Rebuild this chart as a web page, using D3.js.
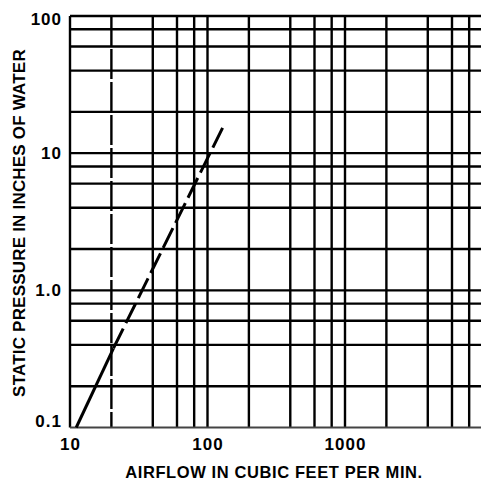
<!DOCTYPE html>
<html><head><meta charset="utf-8">
<script src="https://cdn.jsdelivr.net/npm/d3@7/dist/d3.min.js"></script>
<style>body{margin:0;background:#fff}svg{display:block}</style>
</head><body>
<svg id="chart" width="481" height="483"></svg>
<script>
// ---- data ----
const xGridValues = [10, 20, 40, 60, 80, 100, 200, 400, 600, 800, 1000, 2000, 4000, 6000, 8000];
const yGridValues = [0.1, 0.2, 0.4, 0.6, 0.8, 1, 2, 4, 6, 8, 10, 20, 40, 60, 80, 100];
const xTickValues = [10, 100, 1000];
const xTickLabels = ["10", "100", "1000"];
const yTickValues = [0.1, 1, 10, 100];
const yTickLabels = ["0.1", "1.0", "10", "100"];
const solidFlow = [11.1, 20.7];
const solidPressure = [0.1, 0.378];
const dashedFlow = [20.7, 130];
const dashedPressure = [0.378, 15.6];
const xTitle = "AIRFLOW IN CUBIC FEET PER MIN.";
const yTitle = "STATIC PRESSURE IN INCHES OF WATER";

// ---- drawing ----
const svg = d3.select("#chart");
const x = d3.scaleLog().domain([10, 10000]).range([70, 482.5]);
const y = d3.scaleLog().domain([0.1, 100]).range([427.5, 16]);
const font = "'Liberation Sans', Arial, sans-serif";

const grid = svg.append("g").attr("stroke", "#000").attr("fill", "none");
grid.selectAll("line.v").data(xGridValues).join("line")
  .attr("class", "v")
  .attr("x1", d => x(d)).attr("x2", d => x(d))
  .attr("y1", y(100)).attr("y2", y(0.1))
  .attr("stroke-width", 2.4)
  .attr("stroke-dasharray", d => d === 20 ? "30,3" : null);
grid.selectAll("line.h").data(yGridValues).join("line")
  .attr("class", "h")
  .attr("x1", x(10)).attr("x2", x(10000))
  .attr("y1", d => y(d)).attr("y2", d => y(d))
  .attr("stroke-width", d => d === 0.1 ? 2 : 2.4)
  .attr("stroke", d => d === 0.1 ? "#444" : "#000");

const line = d3.line().x(d => x(d[0])).y(d => y(d[1]));
svg.append("path")
  .datum(d3.zip(solidFlow, solidPressure))
  .attr("d", line).attr("fill", "none").attr("stroke", "#000")
  .attr("stroke-width", 3);
svg.append("path")
  .datum(d3.zip(dashedFlow, dashedPressure))
  .attr("d", line).attr("fill", "none").attr("stroke", "#000")
  .attr("stroke-width", 3).attr("stroke-dasharray", "22,6");

const yAxis = svg.append("g").attr("transform", `translate(${x(10)},0)`)
  .call(d3.axisLeft(y).tickValues(yTickValues)
    .tickFormat((d, i) => yTickLabels[i]).tickSize(0).tickPadding(8));
yAxis.select(".domain").remove();
yAxis.selectAll("text")
  .attr("font-family", font).attr("font-size", 17).attr("font-weight", "bold")
  .attr("letter-spacing", 1).attr("fill", "#000")
  .attr("dy", (d, i) => i === 0 ? "-0.05em" : (i === yTickValues.length - 1 ? "0.5em" : "0.32em"));

const xAxis = svg.append("g").attr("transform", `translate(0,${y(0.1)})`)
  .call(d3.axisBottom(x).tickValues(xTickValues)
    .tickFormat((d, i) => xTickLabels[i]).tickSize(0).tickPadding(10));
xAxis.select(".domain").remove();
xAxis.selectAll("text")
  .attr("font-family", font).attr("font-size", 17).attr("font-weight", "bold")
  .attr("letter-spacing", 1).attr("fill", "#000");

svg.append("text").text(xTitle)
  .attr("x", 274).attr("y", 478)
  .attr("text-anchor", "middle")
  .attr("font-family", font).attr("font-size", 16.5).attr("font-weight", "bold")
  .attr("letter-spacing", 0.6).attr("fill", "#000");

svg.append("text").text(yTitle)
  .attr("transform", "translate(25,223) rotate(-90)")
  .attr("text-anchor", "middle")
  .attr("font-family", font).attr("font-size", 17).attr("font-weight", "bold")
  .attr("letter-spacing", 0.2).attr("fill", "#000");
</script>
</body></html>
